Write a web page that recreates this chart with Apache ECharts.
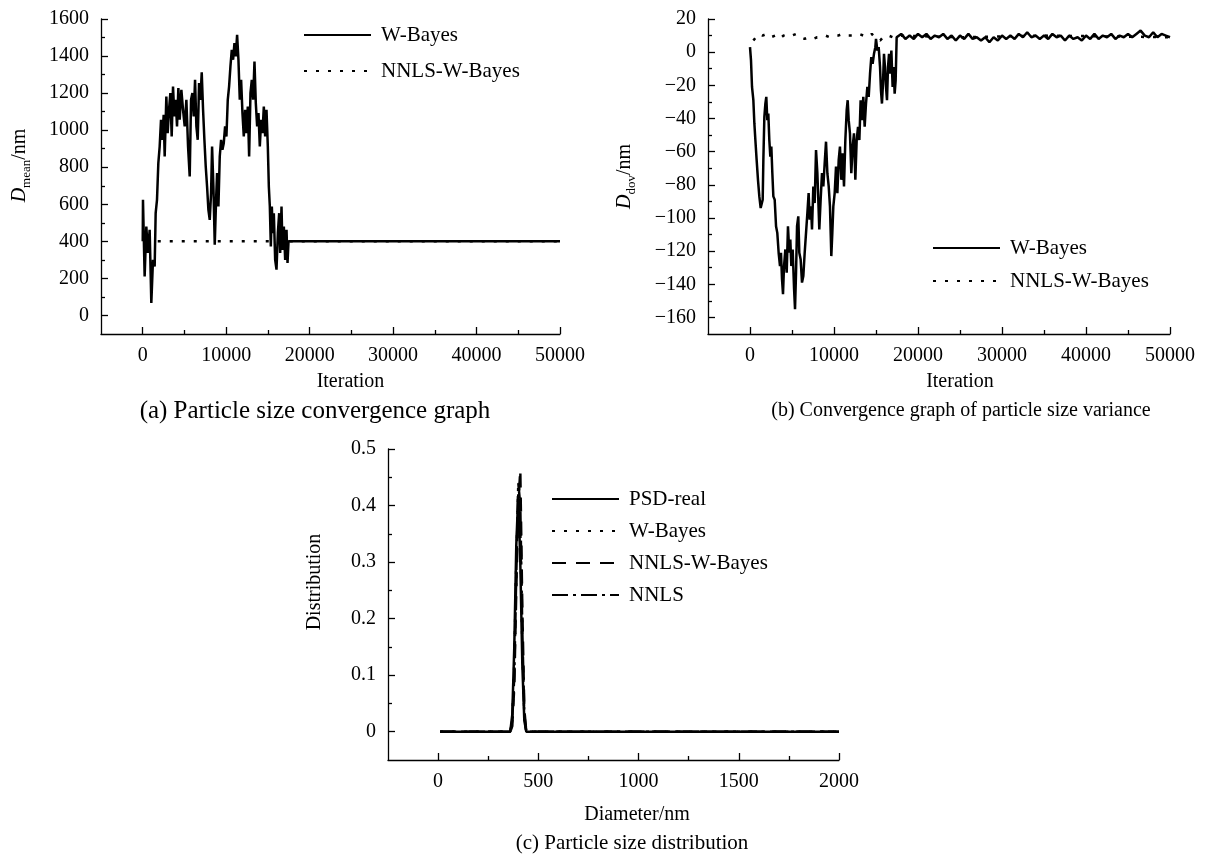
<!DOCTYPE html>
<html>
<head>
<meta charset="utf-8">
<title>Particle size convergence</title>
<script src="https://cdn.jsdelivr.net/npm/echarts@6/dist/echarts.min.js"></script>
<style>
  html, body { margin: 0; padding: 0; background: #fff; }
  #chart { width: 1205px; height: 855px; }
</style>
</head>
<body>
<div id="chart"></div>
<script>
// (a) mean diameter against iteration
const iterA = [0, 30, 230, 430, 630, 830, 1030, 1230, 1430, 1550,
    1710, 1870, 2030, 2190, 2350, 2510, 2630, 2830, 2990, 3150,
    3310, 3470, 3630, 3790, 3950, 4110, 4270, 4430, 4630, 4830,
    5030, 5230, 5430, 5630, 5790, 5950, 6110, 6270, 6430, 6590,
    6750, 6910, 7070, 7230, 7390, 7550, 7710, 7870, 8030, 8190,
    8310, 8470, 8630, 8790, 8910, 9070, 9230, 9390, 9550, 9710,
    9870, 10030, 10190, 10350, 10510, 10670, 10830, 10990, 11150, 11310,
    11470, 11630, 11790, 11950, 12110, 12270, 12430, 12590, 12750, 12910,
    13070, 13230, 13390, 13550, 13710, 13870, 14030, 14190, 14350, 14510,
    14670, 14830, 14990, 15110, 15230, 15350, 15470, 15590, 15710, 15870,
    16030, 16190, 16350, 16470, 16630, 16750, 16910, 17070, 17230, 17350,
    17470, 20000, 30000, 40000, 50000];
const wBayesA = [400, 624, 211, 480, 337, 462, 67, 300, 265, 552,
    624, 822, 912, 1056, 948, 1083, 858, 1182, 984, 1110,
    1200, 966, 1236, 1074, 1164, 1020, 1227, 1056, 1218, 1110,
    1020, 1164, 912, 750, 1164, 1200, 1074, 1272, 1020, 948,
    1254, 1164, 1312, 1110, 948, 804, 696, 570, 516, 660,
    912, 696, 382, 624, 768, 588, 858, 948, 894, 930,
    1020, 966, 1164, 1236, 1344, 1434, 1380, 1470, 1398, 1515,
    1380, 1164, 1272, 1092, 966, 1110, 984, 1128, 858, 1200,
    1272, 1164, 1371, 1146, 1020, 1092, 912, 1056, 984, 1128,
    966, 1110, 912, 696, 588, 373, 588, 444, 552, 300,
    247, 444, 552, 337, 588, 354, 480, 300, 462, 283,
    400, 400, 400, 400, 400];
const nnlsIterA = [1800, 50000];
const nnlsA = [400, 400];

// (b) diameter deviation against iteration
const iterB = [0, 120, 240, 400, 520, 640, 790, 950, 1110, 1270,
    1430, 1510, 1590, 1710, 1830, 1940, 2060, 2180, 2300, 2420,
    2540, 2660, 2780, 2940, 3100, 3250, 3410, 3570, 3690, 3810,
    3930, 4050, 4210, 4370, 4520, 4680, 4800, 4920, 5080, 5240,
    5360, 5480, 5600, 5750, 5870, 6030, 6190, 6350, 6510, 6670,
    6830, 6980, 7100, 7260, 7380, 7540, 7700, 7860, 8020, 8130,
    8250, 8410, 8570, 8730, 8890, 9050, 9210, 9370, 9520, 9680,
    9800, 9920, 10080, 10240, 10400, 10560, 10710, 10870, 11030, 11190,
    11350, 11510, 11630, 11750, 11900, 12060, 12220, 12380, 12540, 12700,
    12860, 13020, 13170, 13330, 13490, 13650, 13810, 13970, 14130, 14290,
    14440, 14600, 14760, 14920, 15000, 15160, 15320, 15480, 15590, 15710,
    15830, 15950, 16070, 16190, 16310, 16430, 16550, 16670, 16830, 16980,
    17100, 17220, 17340, 17460,
    18000, 18500, 19000, 19500, 20000, 20500, 21000, 21500, 22000, 22500,
    23000, 23500, 24000, 24500, 25000, 25500, 26000, 26500, 27000, 27500,
    28000, 28500, 29000, 29500, 30000, 30500, 31000, 31500, 32000, 32500,
    33000, 33500, 34000, 34500, 35000, 35500, 36000, 36500, 37000, 37500,
    38000, 38500, 39000, 39500, 40000, 40500, 41000, 41500, 42000, 42500,
    43000, 43500, 44000, 44500, 45000, 45500, 46000, 46500, 47000, 47500,
    48000, 48500, 49000, 49500, 50000];
const wBayesB = [3, -5, -21, -29, -43, -53, -65, -77, -87, -94,
    -95, -89, -65, -39, -31, -27, -41, -37, -53, -63,
    -57, -73, -87, -89, -105, -109, -121, -129, -121, -137,
    -146, -129, -119, -133, -105, -121, -113, -129, -119, -142,
    -155, -133, -105, -99, -121, -125, -139, -135, -121, -109,
    -97, -85, -101, -93, -107, -81, -91, -59, -73, -89,
    -107, -89, -73, -81, -67, -54, -73, -81, -93, -123,
    -109, -93, -85, -69, -85, -65, -57, -77, -61, -81,
    -53, -35, -29, -41, -49, -73, -57, -49, -77, -53,
    -45, -53, -29, -41, -27, -45, -31, -21, -27, -13,
    -3, -7, -1, 3, 8, 1, 3, -9, -23, -31,
    -19, -1, -9, -21, -29, -9, -1, -13, 1, -21,
    -9, -25, -17, 9,
    11, 8, 10, 8, 11, 9, 11, 8, 10, 9,
    11, 8, 10, 7, 10, 8, 11, 8, 9, 7,
    9, 6, 9, 7, 10, 8, 10, 8, 11, 9,
    12, 9, 10, 8, 10, 8, 11, 9, 10, 7,
    10, 8, 9, 7, 10, 8, 11, 8, 10, 9,
    11, 8, 10, 9, 11, 9, 11, 13, 10, 9,
    12, 9, 11, 10, 9];
const nnlsIterB = [400, 1000, 1500, 2000, 2500, 3000, 3500, 4000, 4500, 5000,
    5500, 6000, 6500, 7000, 7500, 8000, 8500, 9000, 9500, 10000,
    10500, 11000, 11500, 12000, 12500, 13000, 13500, 14000, 14500, 15000,
    15500, 16000, 16500, 17000, 17500, 25000, 35000, 50000];
const nnlsB = [7, 11, 10, 11, 9, 10, 8, 10, 11, 10,
    11, 9, 8, 9, 8, 9, 9, 10, 9, 10,
    10, 11, 10, 10, 10, 11, 10, 9, 11, 8,
    7, 10, 10, 9, 10, 9, 10, 9];

// (c) size distribution
const diameter = [10, 360, 370, 380, 390, 400, 410, 420, 430, 440, 2000];
const psdReal = [0, 0, 0.03, 0.15, 0.33, 0.42, 0.30, 0.12, 0.02, 0, 0];
const wBayesC = [0, 0, 0.02, 0.12, 0.30, 0.43, 0.36, 0.15, 0.03, 0, 0];
const nnlsWBayesC = [0, 0, 0.01, 0.08, 0.25, 0.40, 0.463, 0.22, 0.04, 0, 0];
const nnlsC = [0, 0, 0.02, 0.10, 0.28, 0.44, 0.40, 0.18, 0.03, 0, 0];

// tick values
const iterTicks = [0, 10000, 20000, 30000, 40000, 50000];
const iterMinor = [5000, 15000, 25000, 35000, 45000];
const meanTicks = [0, 200, 400, 600, 800, 1000, 1200, 1400, 1600];
const meanMinor = [100, 300, 500, 700, 900, 1100, 1300, 1500];
const devTicks = [-160, -140, -120, -100, -80, -60, -40, -20, 0, 20];
const devMinor = [-150, -130, -110, -90, -70, -50, -30, -10, 10];
const diamTicks = [0, 500, 1000, 1500, 2000];
const diamMinor = [250, 750, 1250, 1750];
const distTicks = [0, 0.1, 0.2, 0.3, 0.4, 0.5];
const distMinor = [0.05, 0.15, 0.25, 0.35, 0.45];

const FONT = "'Liberation Serif', 'Times New Roman', Times, serif";
const black = { color: '#000', width: 1.3 };
const pairs = (xs, ys) => xs.map((x, i) => [x, ys[i]]);
const minus = v => (v < 0 ? '\u2212' + Math.abs(v) : String(v));

function majorAxis(grid, pos, min, max, ticks, extra) {
    return Object.assign({
        gridIndex: grid,
        type: 'value',
        position: pos,
        min: min,
        max: max,
        nameLocation: 'middle',
        axisLine: { show: true, onZero: false, lineStyle: black },
        axisTick: { show: true, inside: true, length: 7, customValues: ticks, lineStyle: black },
        axisLabel: {
            customValues: ticks, margin: 12,
            fontFamily: FONT, fontSize: 20, color: '#000',
            formatter: v => String(v)
        },
        splitLine: { show: false }
    }, extra);
}

function minorAxis(grid, pos, min, max, ticks) {
    return {
        gridIndex: grid,
        type: 'value',
        position: pos,
        min: min,
        max: max,
        axisLine: { show: false, onZero: false },
        axisTick: { show: true, inside: true, length: 4, customValues: ticks, lineStyle: black },
        axisLabel: { show: false },
        splitLine: { show: false }
    };
}

const nameStyle = (pad) => ({ fontFamily: FONT, fontSize: 20, color: '#000', padding: [0, 0, 0, pad] });
const subRich = {
    i: { fontFamily: FONT, fontSize: 20, fontStyle: 'italic', color: '#000', lineHeight: 26 },
    s: { fontFamily: FONT, fontSize: 13, color: '#000', lineHeight: 14, verticalAlign: 'bottom' },
    n: { fontFamily: FONT, fontSize: 20, color: '#000', lineHeight: 26 }
};

function lineSeries(name, axis, data, type, z) {
    return {
        name: name,
        type: 'line',
        xAxisIndex: axis,
        yAxisIndex: axis,
        data: data,
        symbol: 'none',
        z: z,
        lineStyle: { color: '#000', width: 2.5, type: type },
        itemStyle: { color: '#000' }
    };
}

function legendAt(left, top, gap, names) {
    return {
        orient: 'vertical',
        left: left,
        top: top,
        padding: 0,
        itemWidth: 67,
        itemHeight: 14,
        itemGap: gap,
        selectedMode: false,
        data: names,
        formatter: name => name.slice(2),
        // line icons only, no marker in the middle
        itemStyle: { opacity: 0 },
        textStyle: { fontFamily: FONT, fontSize: 21, color: '#000', lineHeight: 22, padding: [0, 0, 0, 5] }
    };
}

function caption(text, x, y, size) {
    return {
        type: 'text', x: x, y: y,
        style: { text: text, fontFamily: FONT, fontSize: size, fill: '#000', align: 'center', verticalAlign: 'middle' }
    };
}

const chart = echarts.init(document.getElementById('chart'));

const option = {
    animation: false,
    backgroundColor: '#fff',
    grid: [
        { left: 101, top: 19, width: 459, height: 315 },
        { left: 708, top: 19, width: 462, height: 315 },
        { left: 388, top: 449, width: 451, height: 311 }
    ],
    xAxis: [
        majorAxis(0, 'bottom', -5000, 50000, iterTicks,
            { name: 'Iteration', nameGap: 38, nameTextStyle: nameStyle(40) }),
        minorAxis(0, 'bottom', -5000, 50000, iterMinor),
        majorAxis(1, 'bottom', -5000, 50000, iterTicks,
            { name: 'Iteration', nameGap: 38, nameTextStyle: nameStyle(42) }),
        minorAxis(1, 'bottom', -5000, 50000, iterMinor),
        majorAxis(2, 'bottom', -250, 2000, diamTicks,
            { name: 'Diameter/nm', nameGap: 45, nameTextStyle: nameStyle(47) }),
        minorAxis(2, 'bottom', -250, 2000, diamMinor)
    ],
    yAxis: [
        majorAxis(0, 'left', -100, 1600, meanTicks, {
            name: '{i|D}{s|mean}{n|/nm}', nameGap: 68,
            nameTextStyle: Object.assign(nameStyle(22), { rich: subRich })
        }),
        minorAxis(0, 'left', -100, 1600, meanMinor),
        majorAxis(1, 'left', -170, 20, devTicks, {
            name: '{i|D}{s|dov}{n|/nm}', nameGap: 70,
            nameTextStyle: Object.assign(nameStyle(0), { rich: subRich }),
            axisLabel: {
                customValues: devTicks, margin: 12,
                fontFamily: FONT, fontSize: 20, color: '#000', formatter: minus
            }
        }),
        minorAxis(1, 'left', -170, 20, devMinor),
        majorAxis(2, 'left', -0.05, 0.5, distTicks,
            { name: 'Distribution', nameGap: 63, nameTextStyle: nameStyle(45) }),
        minorAxis(2, 'left', -0.05, 0.5, distMinor)
    ],
    legend: [
        legendAt(303, 24, 14, ['a:W-Bayes', 'a:NNLS-W-Bayes']),
        legendAt(932, 237, 11, ['b:W-Bayes', 'b:NNLS-W-Bayes']),
        legendAt(551, 488, 10, ['c:PSD-real', 'c:W-Bayes', 'c:NNLS-W-Bayes', 'c:NNLS'])
    ],
    series: [
        lineSeries('a:NNLS-W-Bayes', 0, pairs(nnlsIterA, nnlsA), [3, 9], 2),
        lineSeries('a:W-Bayes', 0, pairs(iterA, wBayesA), 'solid', 3),
        lineSeries('b:NNLS-W-Bayes', 2, pairs(nnlsIterB, nnlsB), [3, 9], 2),
        lineSeries('b:W-Bayes', 2, pairs(iterB, wBayesB), 'solid', 3),
        lineSeries('c:PSD-real', 4, pairs(diameter, psdReal), 'solid', 2),
        lineSeries('c:W-Bayes', 4, pairs(diameter, wBayesC), [3, 9], 3),
        lineSeries('c:NNLS-W-Bayes', 4, pairs(diameter, nnlsWBayesC), [14, 10], 4),
        lineSeries('c:NNLS', 4, pairs(diameter, nnlsC), [16, 5, 3, 5], 5)
    ],
    graphic: [
        caption('(a) Particle size convergence graph', 315, 411, 25),
        caption('(b) Convergence graph of particle size variance', 961, 411, 20),
        caption('(c) Particle size distribution', 632, 843, 21)
    ]
};

chart.setOption(option);

window.addEventListener('resize', function () {
    chart.resize();
});
</script>
</body>
</html>
